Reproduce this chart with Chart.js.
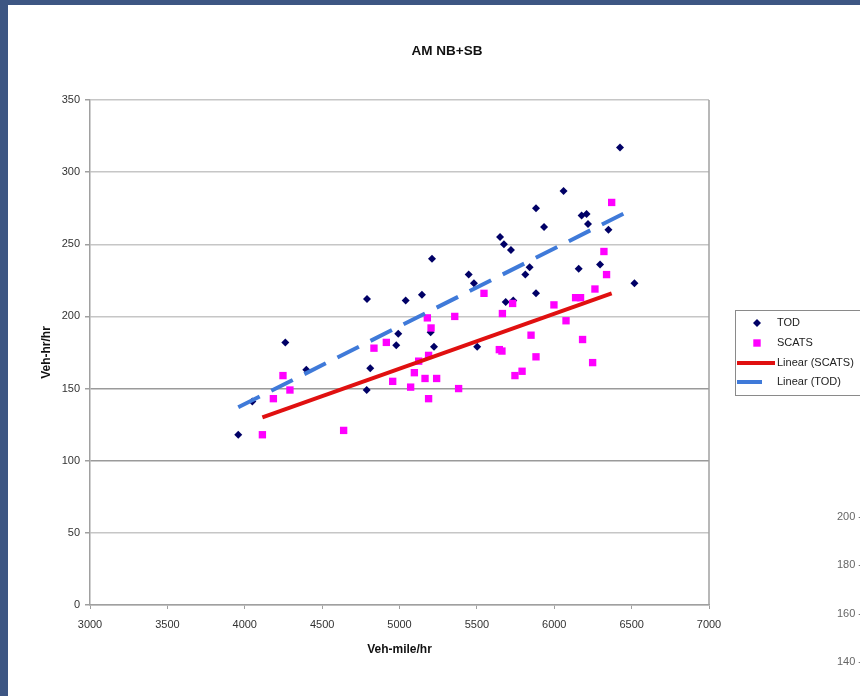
<!DOCTYPE html>
<html>
<head>
<meta charset="utf-8">
<title>AM NB+SB</title>
<script src="https://cdn.jsdelivr.net/npm/chart.js@4.4.0/dist/chart.umd.min.js"></script>
<style>
  html, body { margin: 0; padding: 0; }
  body { width: 860px; height: 696px; background: #3d5683; overflow: hidden; position: relative; }
  .panel { position: absolute; left: 8px; top: 5px; width: 852px; height: 691px; background: #fff; overflow: hidden; }
  canvas { position: absolute; left: 0; top: 0; }
  .ghost { position: absolute; right: -2px; width: 40px; text-align: right; font: 11px "Liberation Sans", Arial, sans-serif; color: #666; line-height: 14px; }
</style>
</head>
<body>
<div class="panel">
  <canvas id="chart" width="852" height="691"></canvas>
  <div class="ghost" style="top:504px">200 -</div>
  <div class="ghost" style="top:552px">180 -</div>
  <div class="ghost" style="top:601px">160 -</div>
  <div class="ghost" style="top:649px">140 -</div>
</div>
<script>
// values
const todX = [3958, 4049, 4262, 4398, 4788, 4811, 4790, 4979, 4992, 5040, 5145, 5201, 5223, 5210,
  5447, 5481, 5502, 5650, 5675, 5720, 5686, 5735, 5813, 5841, 5882, 5882, 5934, 6060, 6158,
  6177, 6209, 6218, 6296, 6350, 6425, 6518];
const todY = [118, 141, 182, 163, 149, 164, 212, 180, 188, 211, 215, 189, 179, 240,
  229, 223, 179, 255, 250, 246, 210, 211, 229, 234, 216, 275, 262, 287, 233,
  270, 271, 264, 236, 260, 317, 223];

const scatsX = [4114, 4185, 4247, 4292, 4639, 4835, 4915, 4956, 5072, 5096, 5124, 5165, 5180,
  5204, 5188, 5188, 5240, 5357, 5382, 5546, 5645, 5662, 5665, 5731, 5746, 5792, 5850, 5882,
  5998, 6076, 6138, 6170, 6183, 6248, 6263, 6321, 6338, 6371];
const scatsY = [118, 143, 159, 149, 121, 178, 182, 155, 151, 161, 169, 157, 199,
  192, 173, 143, 157, 200, 150, 216, 177, 176, 202, 209, 159, 162, 187, 172,
  208, 197, 213, 213, 184, 168, 219, 245, 229, 279];

// trendline ends as drawn in the picture
const scatsTrendX = [4114, 6371];
const scatsTrendY = [130, 216];
const todTrendX = [3958, 6518];
const todTrendY = [137, 275];

const xTicks = [3000, 3500, 4000, 4500, 5000, 5500, 6000, 6500, 7000];
const yTicks = [0, 50, 100, 150, 200, 250, 300, 350];

const toPoints = (xs, ys) => xs.map((x, i) => ({ x: x, y: ys[i] }));

const TOD_COLOR = '#000066';
const SCATS_COLOR = '#ff00ff';
const RED = '#e01010';
const BLUE = '#3f7ad9';
const AXIS_GRAY = '#a0a0a0';
const FONT = '"Liberation Sans", Arial, sans-serif';

// frame, title and boxed legend like the Excel original
const excelBits = {
  id: 'excelBits',
  afterDraw(chart) {
    const ctx = chart.ctx;
    const a = chart.chartArea;
    ctx.save();
    // right border of plot
    ctx.strokeStyle = AXIS_GRAY;
    ctx.lineWidth = 1.5;
    ctx.beginPath();
    ctx.moveTo(a.right, a.top);
    ctx.lineTo(a.right, a.bottom);
    ctx.stroke();

    // title
    ctx.fillStyle = '#111';
    ctx.font = 'bold 13.5px ' + FONT;
    ctx.textAlign = 'center';
    ctx.textBaseline = 'middle';
    ctx.fillText('AM NB+SB', 439, 46);

    // legend box
    ctx.fillStyle = '#fff';
    ctx.fillRect(727, 305, 140, 85);
    ctx.strokeStyle = '#8a8a8a';
    ctx.lineWidth = 1;
    ctx.strokeRect(727.5, 305.5, 140, 85);

    ctx.font = '11px ' + FONT;
    ctx.textAlign = 'left';
    ctx.fillStyle = '#222';

    // TOD
    ctx.fillStyle = TOD_COLOR;
    ctx.beginPath();
    ctx.moveTo(749, 314); ctx.lineTo(753, 318); ctx.lineTo(749, 322); ctx.lineTo(745, 318);
    ctx.closePath();
    ctx.fill();
    ctx.fillStyle = '#222';
    ctx.fillText('TOD', 769, 318);

    // SCATS
    ctx.fillStyle = SCATS_COLOR;
    ctx.fillRect(745.3, 334.3, 7.4, 7.4);
    ctx.fillStyle = '#222';
    ctx.fillText('SCATS', 769, 338);

    // Linear (SCATS)
    ctx.strokeStyle = RED;
    ctx.lineWidth = 4;
    ctx.beginPath();
    ctx.moveTo(729, 358); ctx.lineTo(767, 358);
    ctx.stroke();
    ctx.fillText('Linear (SCATS)', 769, 358);

    // Linear (TOD)
    ctx.strokeStyle = BLUE;
    ctx.beginPath();
    ctx.moveTo(729, 377); ctx.lineTo(754, 377);
    ctx.stroke();
    ctx.fillText('Linear (TOD)', 769, 377);
    ctx.restore();
  }
};

new Chart(document.getElementById('chart'), {
  type: 'scatter',
  data: {
    datasets: [
      {
        label: 'Linear (SCATS)',
        type: 'line',
        data: toPoints(scatsTrendX, scatsTrendY),
        borderColor: RED,
        borderWidth: 4,
        pointRadius: 0,
        fill: false,
        order: 0
      },
      {
        label: 'Linear (TOD)',
        type: 'line',
        data: toPoints(todTrendX, todTrendY),
        borderColor: BLUE,
        borderWidth: 4,
        borderDash: [24, 13],
        borderCapStyle: 'butt',
        pointRadius: 0,
        fill: false,
        order: 0
      },
      {
        label: 'SCATS',
        data: toPoints(scatsX, scatsY),
        pointStyle: 'rect',
        pointRadius: 5.2,
        backgroundColor: SCATS_COLOR,
        borderWidth: 0,
        order: 1
      },
      {
        label: 'TOD',
        data: toPoints(todX, todY),
        pointStyle: 'rectRot',
        pointRadius: 4,
        backgroundColor: TOD_COLOR,
        borderWidth: 0,
        order: 2
      }
    ]
  },
  options: {
    responsive: false,
    animation: false,
    devicePixelRatio: 1,
    layout: { padding: { left: 0, top: 95, right: 151, bottom: 31 } },
    plugins: {
      legend: { display: false },
      title: { display: false },
      tooltip: { enabled: false }
    },
    scales: {
      x: {
        type: 'linear',
        min: 3000,
        max: 7000,
        afterFit: (s) => { s.height = 60; },
        afterBuildTicks: (s) => { s.ticks = xTicks.map(v => ({ value: v })); },
        ticks: {
          font: { size: 11, family: FONT },
          color: '#333',
          padding: 9,
          maxRotation: 0,
          callback: (v) => String(v)
        },
        grid: { drawOnChartArea: false, drawTicks: true, tickLength: 4, tickColor: AXIS_GRAY },
        border: { display: true, color: AXIS_GRAY, width: 1.5 },
        title: {
          display: true,
          text: 'Veh-mile/hr',
          font: { size: 12, weight: 'bold', family: FONT },
          color: '#111',
          padding: { top: 0, bottom: 8 }
        }
      },
      y: {
        type: 'linear',
        min: 0,
        max: 350,
        afterFit: (s) => { s.width = 82; },
        afterBuildTicks: (s) => { s.ticks = yTicks.map(v => ({ value: v })); },
        ticks: {
          font: { size: 11, family: FONT },
          color: '#333',
          padding: 5,
          callback: (v) => String(v)
        },
        grid: {
          color: (c) => (c.tick && (c.tick.value === 100 || c.tick.value === 150)) ? '#9a9a9a' : '#c6c6c6',
          lineWidth: 1.5,
          drawTicks: true,
          tickLength: 5,
          tickColor: AXIS_GRAY
        },
        border: { display: true, color: AXIS_GRAY, width: 1.5 },
        title: {
          display: true,
          text: 'Veh-hr/hr',
          font: { size: 12, weight: 'bold', family: FONT },
          color: '#111',
          padding: { top: 31, bottom: 0 }
        }
      }
    }
  },
  plugins: [excelBits]
});
</script>
</body>
</html>
